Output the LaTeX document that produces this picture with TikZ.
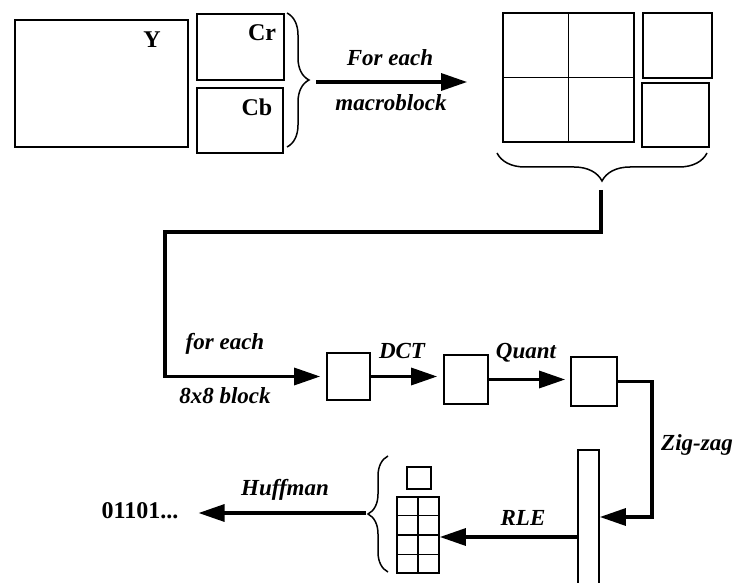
\documentclass[tikz,border=0pt]{standalone}
\usepackage{fontspec}
\setmainfont{Liberation Serif}
\usepackage{tikz}
\usetikzlibrary{arrows.meta,positioning,calc,decorations.pathreplacing}

\begin{document}
\begin{tikzpicture}[
    x=1pt, y=-1pt,
    box/.style={rectangle, draw, line width=1.7pt, inner sep=0pt},
    lab/.style={font=\fontsize{23}{26}\selectfont\bfseries\itshape, inner sep=0pt},
    txt/.style={font=\fontsize{24}{28}\selectfont\bfseries, inner sep=0pt},
    arr/.style={-{Triangle[length=26pt,width=17pt]}, line width=3.2pt},
    brc/.style={decorate, decoration={brace, amplitude=#1}, line width=1.5pt},
]
\useasboundingbox (0,0) rectangle (740,583);

% Top left: the three planes of the frame
\node[box, minimum width=173pt, minimum height=127pt] (lum) at (101.5,83.5) {};
\node[box, minimum width=87pt, minimum height=66pt] (cr) at (240.5,47) {};
\node[box, minimum width=86pt, minimum height=65pt] (cb) at (240,120.5) {};
\node[txt] (lumlab) at (152,40) {Y};
\node[txt] (crlab) at (262,33) {Cr};
\node[txt] (cblab) at (257,107) {Cb};
\draw[brc=22pt] (287,13) -- (287,147);
\coordinate (tipA) at (316,82);

% Top right: one macroblock
\node[box, minimum width=131pt, minimum height=129pt] (mb) at (568.5,77.5) {};
\draw[line width=1.7pt] (mb.north) -- (mb.south);
\draw[line width=1.7pt] (mb.west) -- (mb.east);
\node[box, minimum width=69pt, minimum height=65pt] (mbcr) at (677.5,45.5) {};
\node[box, minimum width=67pt, minimum height=64pt] (mbcb) at (675.5,115) {};
\draw[brc=28pt] (707,153) -- (497,153);
\coordinate (tipB) at (601,190);

\draw[arr, shorten >=35pt] (tipA) -- (tipA -| mb.west);
\node[lab] (foreach) at (390,58) {For each};
\node[lab] (mblab) at (391,103) {macroblock};

% Middle row: 8x8 blocks
\node[box, minimum width=43pt, minimum height=47pt] (blk1) at (348.5,376.5) {};
\node[box, minimum width=44pt, minimum height=49pt] (blk2) at (466,379.5) {};
\node[box, minimum width=46pt, minimum height=49pt] (blk3) at (594,381.5) {};
\coordinate (turn) at (165,232);
\coordinate (zz) at (652,517);

\draw[arr, shorten >=6pt] (tipB) |- (turn) |- (blk1.west);
\node[lab] (each8) at (225,344) {for each};
\node[lab] (blk8) at (225,396) {8x8 block};
\draw[arr, shorten >=6pt] (blk1.east) -- (blk1.east -| blk2.west);
\node[lab] (dct) at (402,351) {DCT};
\draw[arr, shorten >=5pt] (blk2.east) -- (blk2.east -| blk3.west);
\node[lab] (quant) at (526,353) {Quant};

% Bottom row: zig-zag, RLE, Huffman
\node[box, minimum width=21pt, minimum height=134pt] (bar) at (588.5,517) {};
\draw[arr] (blk3.east) -| (zz) |- (bar.east);
\node[lab] (ziglab) at (697,445) {Zig-zag};

\node[box, minimum width=42pt, minimum height=76pt] (stack) at (418,535) {};
\draw[line width=1.7pt] (stack.north) -- (stack.south);
\foreach \f in {0.25,0.5,0.75}
  \draw[line width=1.7pt] ($(stack.north west)!\f!(stack.south west)$) -- ($(stack.north east)!\f!(stack.south east)$);
\node[box, minimum width=24pt, minimum height=22pt] (dc) at (419,478) {};
\draw[arr] ([yshift=-20pt]bar.west) -- ([yshift=-20pt]bar.west -| stack.east);
\node[lab] (rle) at (523,518) {RLE};

\draw[brc=20pt] (388,572) -- (388,456);
\coordinate (tipC) at (366,513);
\node[txt] (bits) at (140,511) {01101...};
\draw[arr, shorten >=20pt] (tipC) -- (bits.east |- tipC);
\node[lab] (huff) at (285,490) {Huffman};

\end{tikzpicture}
\end{document}
